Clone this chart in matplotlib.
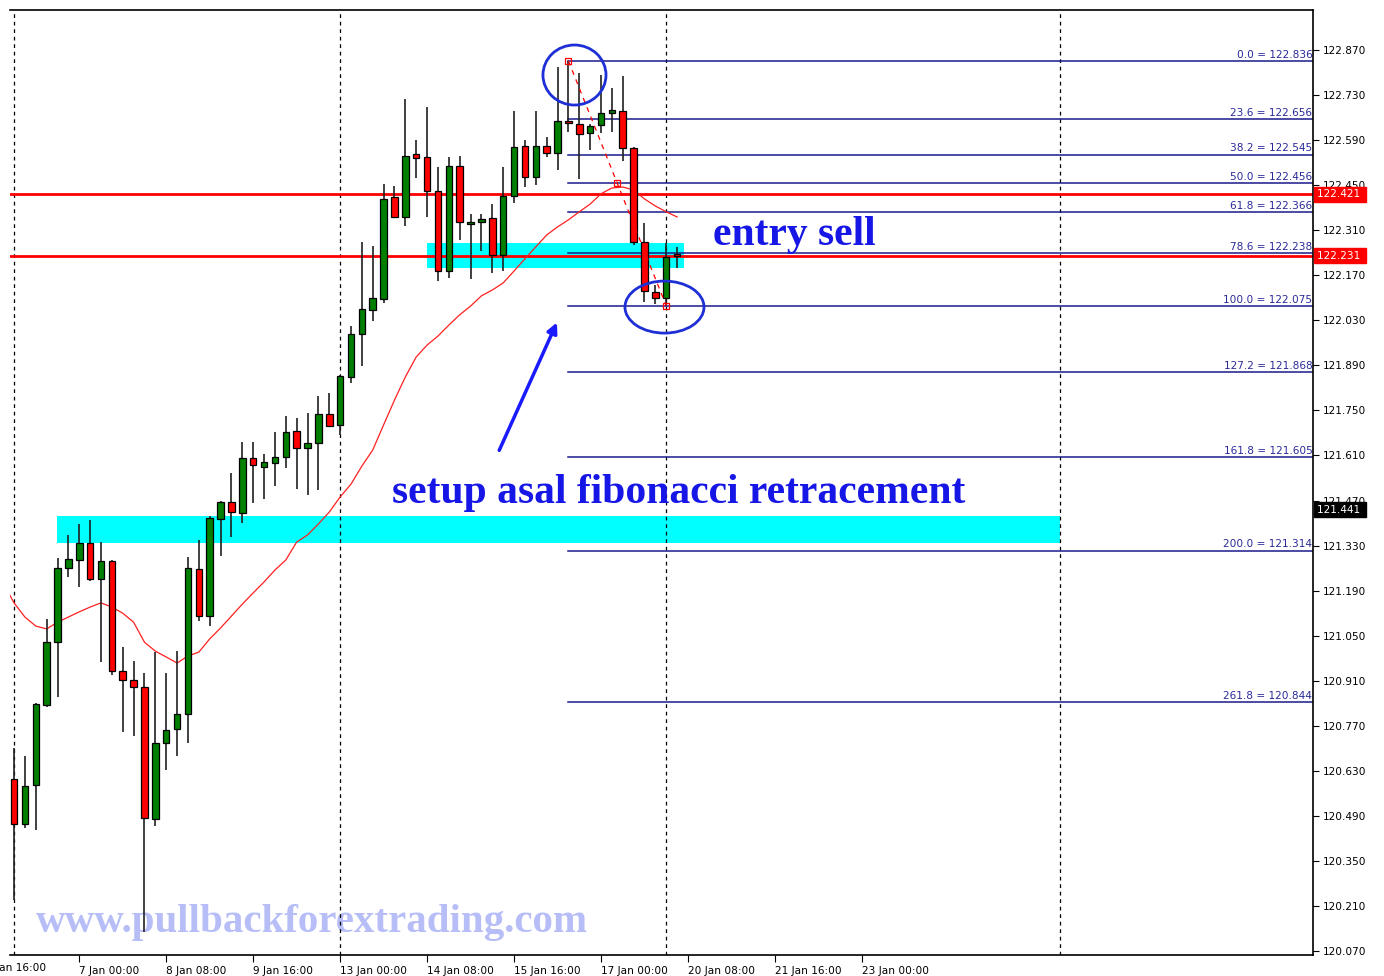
import numpy as np
import matplotlib
matplotlib.use("Agg")
import matplotlib.pyplot as plt
import matplotlib.transforms as mtrans
from matplotlib.patches import Rectangle, Ellipse

# H4 candles
opens = [120.605, 120.465, 120.586, 120.835, 121.030, 121.260, 121.285, 121.338, 121.226, 121.282,
         120.940, 120.912, 120.891, 120.480, 120.717, 120.760, 120.807, 121.257, 121.111, 121.413,
         121.465, 121.431, 121.602, 121.574, 121.587, 121.605, 121.686, 121.633, 121.649, 121.739,
         121.705, 121.854, 121.987, 122.062, 122.096, 122.413, 122.351, 122.547, 122.537, 122.432,
         122.183, 122.510, 122.330, 122.336, 122.348, 122.233, 122.416, 122.572, 122.475, 122.572,
         122.550, 122.649, 122.640, 122.612, 122.637, 122.674, 122.680, 122.565, 122.273, 122.118,
         122.099, 122.235]
highs = [120.701, 120.676, 120.840, 121.102, 121.291, 121.363, 121.397, 121.409, 121.341, 121.285,
         121.015, 120.971, 120.934, 120.999, 120.934, 121.002, 121.294, 121.347, 121.422, 121.468,
         121.556, 121.652, 121.652, 121.615, 121.683, 121.733, 121.726, 121.742, 121.795, 121.804,
         121.860, 122.012, 122.273, 122.261, 122.454, 122.447, 122.718, 122.590, 122.693, 122.506,
         122.537, 122.541, 122.360, 122.360, 122.391, 122.506, 122.680, 122.590, 122.680, 122.600,
         122.817, 122.836, 122.799, 122.640, 122.792, 122.752, 122.789, 122.569, 122.332, 122.140,
         122.270, 122.258]
lows = [120.229, 120.452, 120.446, 120.828, 120.859, 121.232, 121.201, 121.220, 120.968, 120.928,
        120.751, 120.738, 120.129, 120.459, 120.633, 120.676, 120.717, 121.096, 121.080, 121.298,
        121.357, 121.400, 121.462, 121.475, 121.515, 121.571, 121.506, 121.487, 121.503, 121.699,
        121.674, 121.835, 121.888, 122.028, 122.084, 122.348, 122.323, 122.472, 122.351, 122.152,
        122.161, 122.280, 122.158, 122.245, 122.177, 122.183, 122.395, 122.444, 122.450, 122.537,
        122.497, 122.615, 122.469, 122.559, 122.612, 122.615, 122.525, 122.264, 122.087, 122.081,
        122.075, 122.193]
closes = [120.465, 120.583, 120.838, 121.030, 121.260, 121.288, 121.338, 121.226, 121.282, 120.940,
          120.912, 120.891, 120.483, 120.717, 120.757, 120.807, 121.260, 121.111, 121.416, 121.465,
          121.434, 121.602, 121.580, 121.590, 121.605, 121.683, 121.633, 121.649, 121.739, 121.702,
          121.857, 121.987, 122.065, 122.099, 122.407, 122.351, 122.541, 122.534, 122.432, 122.183,
          122.510, 122.336, 122.336, 122.345, 122.233, 122.416, 122.569, 122.475, 122.572, 122.550,
          122.649, 122.643, 122.609, 122.634, 122.674, 122.684, 122.565, 122.273, 122.121, 122.099,
          122.227, 122.231]
# moving average (thin red line), starts half a bar before the first candle
ma_x0 = -0.45
ma = [121.180, 121.152, 121.108, 121.080, 121.071, 121.092, 121.108, 121.124, 121.139, 121.152, 121.139,
      121.120, 121.092, 121.030, 121.002, 120.984, 120.965, 120.987, 120.999, 121.040, 121.074,
      121.111, 121.148, 121.183, 121.217, 121.254, 121.285, 121.341, 121.363, 121.397, 121.434,
      121.481, 121.521, 121.577, 121.627, 121.705, 121.782, 121.854, 121.916, 121.953, 121.981,
      122.015, 122.047, 122.074, 122.106, 122.124, 122.146, 122.183, 122.221, 122.258, 122.295,
      122.320, 122.342, 122.367, 122.391, 122.423, 122.441, 122.444, 122.435, 122.407, 122.385,
      122.367, 122.351]
ma_x = [ma_x0] + list(range(len(ma) - 1))

# fibonacci
fib_pct = ["0.0", "23.6", "38.2", "50.0", "61.8", "78.6", "100.0", "127.2", "161.8", "200.0", "261.8"]
fib_price = [122.836, 122.656, 122.545, 122.456, 122.366, 122.238, 122.075, 121.868, 121.605, 121.314, 120.844]
fib_from = 51
fib_to = 60

hlines = [122.421, 122.231]
zones = [(3.96, 96.2, 121.338, 121.422), (38.0, 61.6, 122.193, 122.270)]
separators = [0, 30, 60, 96.2]

xtick_pos = [6, 14, 22, 30, 38, 46, 54, 62, 70, 78]
xtick_lab = ["7 Jan 00:00", "8 Jan 08:00", "9 Jan 16:00", "13 Jan 00:00", "14 Jan 08:00",
             "15 Jan 16:00", "17 Jan 00:00", "20 Jan 08:00", "21 Jan 16:00", "23 Jan 00:00"]
yticks = np.round(np.arange(120.070, 122.88, 0.14), 3)

W, H = 1384, 976
fig = plt.figure(figsize=(W / 100, H / 100), dpi=100)
ax = fig.add_axes([10 / W, (H - 955) / H, (1313 - 10) / W, (955 - 10) / H])
ax.set_xlim(-0.37, 119.5)
ax.set_ylim(120.058, 122.994)

axfont = dict(family="DejaVu Sans", size=7.6)

# watermark
ax.text(2.0, 120.160, "www.pullbackforextrading.com", family="Liberation Serif", weight="bold",
        size=29.5, color="#b6bdf7", va="center", ha="left", zorder=0.5)

# zones
for x0, x1, y0, y1 in zones:
    ax.add_patch(Rectangle((x0, y0), x1 - x0, y1 - y0, color="#00ffff", lw=0, zorder=1))

# week separators
for s in separators:
    ax.axvline(s, color="black", lw=0.9, ls=(0, (3, 3)), zorder=1.2)

# fib levels
tr = mtrans.blended_transform_factory(ax.transAxes, ax.transData)
for pct, p in zip(fib_pct, fib_price):
    ax.plot([fib_from, 119.5], [p, p], color="#1a1a8c", lw=1.1, zorder=1.5)
    ax.text(0.9995, p + 0.004, "%s = %.3f" % (pct, p), transform=tr, ha="right", va="bottom",
            color="#2a2a9a", **axfont)

# red horizontal lines
for h in hlines:
    ax.axhline(h, color="#ff0000", lw=2, zorder=1.6)

# moving average
ax.plot(ma_x, ma, color="#ff2020", lw=0.9, zorder=1.8, clip_on=True)

# candles
idx = np.arange(len(opens))
o = np.array(opens); c = np.array(closes)
ax.vlines(idx, lows, highs, color="#202020", lw=1.2, zorder=2)
cols = ["#007f00" if cc >= oo else "#ff0000" for oo, cc in zip(o, c)]
hgt = np.maximum(np.abs(c - o), 0.003)
ax.bar(idx, hgt, bottom=np.minimum(o, c), width=0.6, color=cols, edgecolor="black", lw=0.9, zorder=2.1)

# fib trend line
mid = ((fib_from + fib_to) / 2, (fib_price[0] + fib_price[6]) / 2)
ax.plot([fib_from, fib_to], [fib_price[0], fib_price[6]], color="#ff0000", lw=0.9, ls=(0, (4, 4)), zorder=2.5)
ax.plot([fib_from, mid[0], fib_to], [fib_price[0], mid[1], fib_price[6]], ls="none", marker="s",
        ms=5, mfc="none", mec="#ff0000", mew=0.9, zorder=2.6)

# circles
ax.add_patch(Ellipse((51.56, 122.792), 5.8, 0.1865, fill=False, ec="#1f2fd6", lw=2, zorder=3))
ax.add_patch(Ellipse((59.84, 122.071), 7.27, 0.1616, fill=False, ec="#1f2fd6", lw=2, zorder=3))

# arrow
ax.annotate("", xy=(50.05, 122.031), xytext=(44.53, 121.618),
            arrowprops=dict(arrowstyle="-|>,head_length=0.6,head_width=0.3", color="#1a1aff", lw=2.5),
            zorder=3)

# annotations
ax.text(64.3, 122.295, "entry sell", family="Liberation Serif", weight="bold", size=30,
        color="#1616e6", va="center", ha="left", zorder=3)
ax.text(34.8, 121.493, "setup asal fibonacci retracement", family="Liberation Serif", weight="bold",
        size=30, color="#1616e6", va="center", ha="left", zorder=3)

# axes styling
for side in ["top", "right", "bottom"]:
    ax.spines[side].set_linewidth(1.2)
ax.spines["left"].set_visible(False)
ax.yaxis.tick_right()
ax.set_yticks(yticks)
ax.set_yticklabels(["%.3f" % v for v in yticks], **axfont)
ax.tick_params(axis="y", direction="out", length=4, pad=3, colors="black")
ax.set_xticks(xtick_pos)
ax.set_xticklabels(xtick_lab, ha="left", **axfont)
ax.tick_params(axis="x", direction="out", length=5, pad=3)
# first date label is cut by the window edge in the original
ax.text(-2.6, -0.008, "3 Jan 16:00", transform=mtrans.blended_transform_factory(ax.transData, ax.transAxes),
        ha="left", va="top", clip_on=False, **axfont)

# price boxes
for p, bg in [(122.421, "#ff0000"), (122.231, "#ff0000"), (121.441, "black")]:
    ax.text(1.003, p, "%.3f " % p, transform=tr, ha="left", va="center", color="white", clip_on=False,
            bbox=dict(boxstyle="square,pad=0.25", fc=bg, ec=bg), zorder=5, **axfont)

fig.savefig("out.png", dpi=100)
